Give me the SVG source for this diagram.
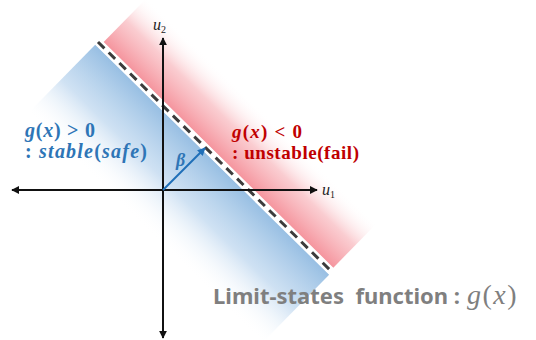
<svg xmlns="http://www.w3.org/2000/svg" width="536" height="340" viewBox="0 0 536 340">
  <defs>
    <linearGradient id="gRed" gradientUnits="userSpaceOnUse" x1="0" y1="-4" x2="0" y2="-66">
      <stop offset="0" stop-color="#f5959e" stop-opacity="1"/>
      <stop offset="0.5" stop-color="#f9c0c5" stop-opacity="0.8"/>
      <stop offset="1" stop-color="#ffffff" stop-opacity="0"/>
    </linearGradient>
    <linearGradient id="gBlue" gradientUnits="userSpaceOnUse" x1="0" y1="4" x2="0" y2="100">
      <stop offset="0" stop-color="#98bfe3" stop-opacity="1"/>
      <stop offset="0.5" stop-color="#c3daf0" stop-opacity="0.8"/>
      <stop offset="1" stop-color="#ffffff" stop-opacity="0"/>
    </linearGradient>
    <marker id="ah" viewBox="0 0 10 10" refX="9" refY="5" markerWidth="4" markerHeight="4" orient="auto-start-reverse">
      <path d="M0,0 L10,5 L0,10 z" fill="#111"/>
    </marker>
    <marker id="ahb" viewBox="0 0 10 10" refX="9" refY="5" markerWidth="4" markerHeight="4" orient="auto">
      <path d="M0,0 L10,5 L0,10 z" fill="#1f6fb8"/>
    </marker>
  </defs>
  <style>
    .axis { stroke: #111; stroke-width: 2; fill: none; }
    .serif { font-family: "Liberation Serif", "DejaVu Serif", serif; }
    .blue { fill: #2e75b6; }
    .red { fill: #c00000; }
    .gray { fill: #7f7f7f; }
  </style>
  <rect width="536" height="340" fill="#ffffff"/>

  <g id="regions" transform="translate(98,42) rotate(44.5)">
    <rect x="4" y="-70" width="322" height="66" fill="url(#gRed)"/>
    <rect x="0" y="4" width="328" height="100" fill="url(#gBlue)"/>
  </g>

  <g id="limit-state-line" transform="translate(98,42) rotate(44.5)">
    <line x1="0" y1="0" x2="328" y2="0" stroke="#ffffff" stroke-width="7"/>
    <line x1="0" y1="0" x2="328" y2="0" stroke="#3c3c3c" stroke-width="3" stroke-dasharray="9 6"/>
  </g>

  <g id="connectors">
    <line class="axis" x1="163" y1="190" x2="163" y2="38" marker-end="url(#ah)"/>
    <line class="axis" x1="163" y1="190" x2="163" y2="338" marker-end="url(#ah)"/>
    <line class="axis" x1="163" y1="190" x2="317" y2="190" marker-end="url(#ah)"/>
    <line class="axis" x1="163" y1="190" x2="12" y2="190" marker-end="url(#ah)"/>
    <line x1="163" y1="190" x2="205" y2="148" stroke="#1f6fb8" stroke-width="2" marker-end="url(#ahb)"/>
  </g>

  <g id="axis-labels" class="serif">
    <text x="153" y="30" font-size="16" font-style="italic" fill="#222">u<tspan font-size="10" dy="3" font-style="normal">2</tspan></text>
    <text x="322" y="195" font-size="16" font-style="italic" fill="#222">u<tspan font-size="10" dy="3" font-style="normal">1</tspan></text>
    <text x="176" y="166" font-size="18" font-style="italic" font-weight="bold" class="blue">β</text>
  </g>

  <g id="stable-label" class="serif blue" font-size="20" font-weight="bold">
    <text x="25" y="137" textLength="70" lengthAdjust="spacing"><tspan font-style="italic">g</tspan>(<tspan font-style="italic">x</tspan>) &gt; 0</text>
    <text x="25" y="158" textLength="122" lengthAdjust="spacing">: <tspan font-style="italic">stable</tspan>(<tspan font-style="italic">safe</tspan>)</text>
  </g>

  <g id="unstable-label" class="serif red" font-size="19" font-weight="bold">
    <text x="232" y="138" textLength="70" lengthAdjust="spacing"><tspan font-style="italic">g</tspan>(<tspan font-style="italic">x</tspan>) &lt; 0</text>
    <text x="232" y="159" textLength="127" lengthAdjust="spacing">: unstable(fail)</text>
  </g>

  <g id="title" class="gray">
    <text x="213" y="304" font-family="'Noto Sans', 'Open Sans', sans-serif" font-size="22" font-weight="bold" xml:space="preserve">Limit-states  function :</text>
    <text x="467" y="304" font-family="'Liberation Serif', serif" font-size="28" letter-spacing="1.5"><tspan font-style="italic">g</tspan>(<tspan font-style="italic">x</tspan>)</text>
  </g>
</svg>
